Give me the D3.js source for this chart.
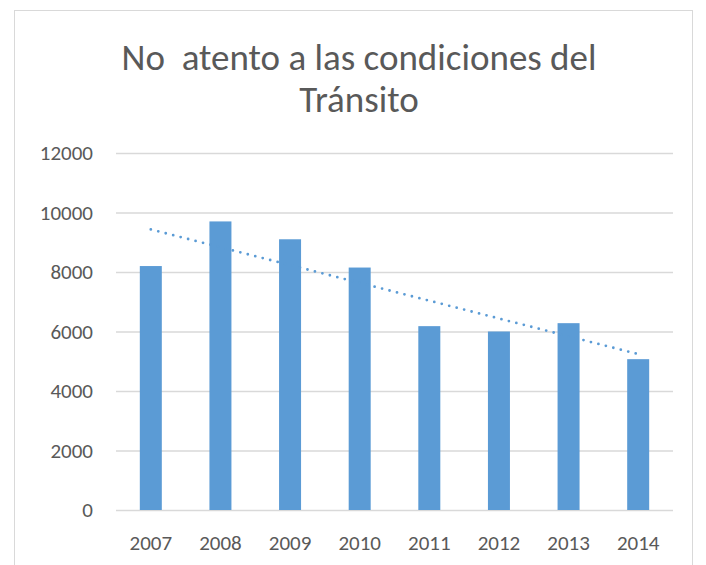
<!DOCTYPE html>
<html>
<head>
<meta charset="utf-8">
<script src="https://cdn.jsdelivr.net/npm/d3@7"></script>
<style>
  body { margin: 0; background: #fff; }
  text { font-family: Carlito, Calibri, Lato, "Open Sans", sans-serif; fill: #595959; }
</style>
</head>
<body>
<div id="chart"></div>
<script>
// data
const years = ["2007", "2008", "2009", "2010", "2011", "2012", "2013", "2014"];
const values = [8200, 9700, 9100, 8150, 6180, 6000, 6280, 5070];
const yTicks = [0, 2000, 4000, 6000, 8000, 10000, 12000];

const W = 706, H = 565;
const margin = {top: 153, right: 33, bottom: 55, left: 116};
const width = W - margin.left - margin.right;
const height = 510 - margin.top;
const fontStack = "Carlito, Calibri, Lato, 'Open Sans', sans-serif";

const svg = d3.select("#chart").append("svg")
  .attr("width", W).attr("height", H);

// chart border
svg.append("rect")
  .attr("x", 14.5).attr("y", 10.5)
  .attr("width", 678).attr("height", 570)
  .attr("fill", "none").attr("stroke", "#d9d9d9");

// title
const title = svg.append("text")
  .attr("text-anchor", "middle")
  .style("font-size", "37px")
  .style("font-weight", 300)
  .style("white-space", "pre");
title.append("tspan").attr("x", 359).attr("y", 70).text("No  atento a las condiciones del");
title.append("tspan").attr("x", 359).attr("y", 112).text("Tránsito");

const g = svg.append("g").attr("transform", `translate(${margin.left},${margin.top})`);

const x = d3.scaleBand().domain(years).range([0, width]).paddingInner(0.684).paddingOuter(0.342);
const y = d3.scaleLinear().domain([0, 12000]).range([height, 0]);

// gridlines
g.append("g")
  .call(d3.axisLeft(y).tickValues(yTicks).tickSize(-width).tickFormat(""))
  .call(a => a.select(".domain").remove())
  .call(a => a.selectAll("line").attr("stroke", "#d9d9d9").attr("stroke-width", 1.3));

// y labels
g.append("g")
  .call(d3.axisLeft(y).tickValues(yTicks).tickSize(0).tickPadding(23).tickFormat(d3.format("d")))
  .call(a => a.select(".domain").remove())
  .call(a => a.selectAll("text").style("font-size", "21px").attr("fill", "#595959")
    .style("font-family", fontStack));

// bars
g.selectAll(".bar")
  .data(values)
  .join("rect")
    .attr("class", "bar")
    .attr("x", (d, i) => x(years[i]))
    .attr("width", x.bandwidth())
    .attr("y", d => y(d))
    .attr("height", d => height - y(d))
    .attr("fill", "#5b9bd5");

// x labels
g.append("g")
  .attr("transform", `translate(0,${height})`)
  .call(d3.axisBottom(x).tickSize(0).tickPadding(25))
  .call(a => a.select(".domain").remove())
  .call(a => a.selectAll("text").style("font-size", "21px").attr("fill", "#595959")
    .style("font-family", fontStack));

// linear trendline
const n = values.length;
const xs = d3.range(1, n + 1);
const mx = d3.mean(xs), my = d3.mean(values);
const slope = d3.sum(xs, (v, i) => (v - mx) * (values[i] - my)) / d3.sum(xs, v => (v - mx) ** 2);
const icpt = my - slope * mx;
const cx = i => x(years[i]) + x.bandwidth() / 2;
g.append("line")
  .attr("x1", cx(0)).attr("y1", y(icpt + slope * 1))
  .attr("x2", cx(n - 1)).attr("y2", y(icpt + slope * n))
  .attr("stroke", "#5b9bd5")
  .attr("stroke-width", 2.8)
  .attr("stroke-linecap", "round")
  .attr("stroke-dasharray", "0 7.7");
</script>
</body>
</html>
